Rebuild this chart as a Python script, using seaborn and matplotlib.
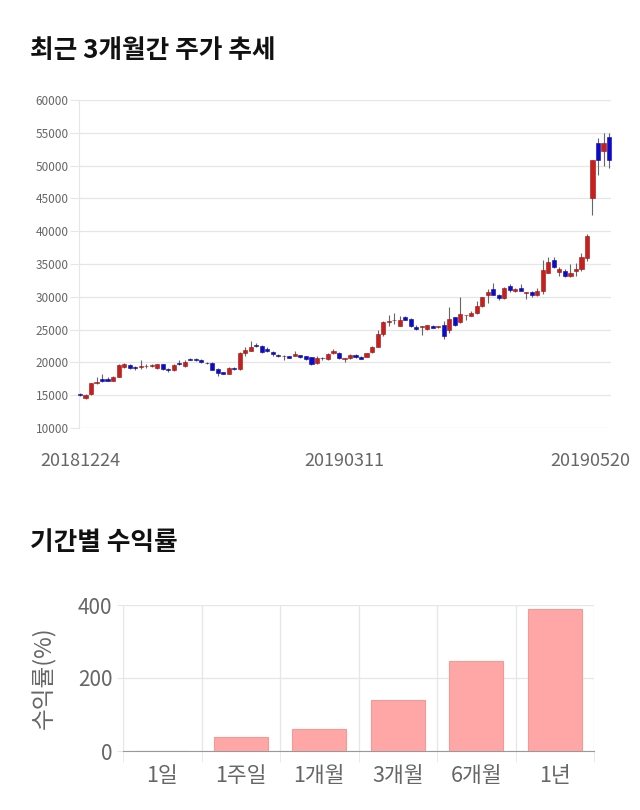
import numpy as np
import pandas as pd
import matplotlib
matplotlib.use("Agg")
import matplotlib.pyplot as plt
import matplotlib.transforms as mtrans
import seaborn as sns

# ==========================================================
# 데이터
# ==========================================================

opens = [15200, 14500, 15200, 16800, 17400, 17400, 17200, 17800, 19300, 19600,
         19200, 19300, 19400, 19500, 19100, 19700, 19000, 18900, 19900, 19400,
         20500, 20400, 20400, 19900, 19950, 19000, 18500, 18300, 19200, 19000,
         21500, 21800, 22650, 22500, 22100, 21600, 21200, 20900, 20900, 21000,
         21100, 20900, 20750, 19850, 20650, 20500, 21400, 21500, 20500, 20600,
         21200, 20850, 20850, 21600, 22400, 24300, 26100, 26400, 25600, 26850,
         26600, 25450, 25450, 25100, 25600, 25400, 25700, 24950, 26850, 26100,
         27150, 27100, 27500, 28600, 30200, 31150, 30200, 29800, 31700, 30900,
         31400, 30550, 30800, 30200, 30950, 33700, 35550, 33800, 34000, 33100,
         34000, 34200, 35900, 45000, 53400, 52300, 54350]
closes = [15000, 15000, 16800, 17000, 17100, 17200, 17800, 19600, 19800, 19200,
          19150, 19300, 19400, 19500, 19700, 19000, 18800, 19600, 19700, 20000,
          20400, 20350, 20000, 19850, 18900, 18400, 18300, 19200, 19000, 21500,
          21900, 22400, 22500, 21600, 21800, 21300, 20900, 20900, 20700, 21300,
          20750, 20550, 19800, 20600, 20600, 21300, 21700, 20650, 20500, 21100,
          20850, 20550, 21400, 22400, 24300, 26100, 26300, 26400, 26500, 26500,
          25600, 25100, 25450, 25650, 25300, 25400, 24000, 26600, 25700, 27400,
          27150, 27500, 28600, 29900, 30700, 30300, 29800, 31400, 31000, 31200,
          30950, 30550, 30200, 30950, 34100, 35300, 34550, 34300, 33200, 33700,
          34200, 36050, 39200, 50800, 50800, 53400, 50800]
highs = [15300, 15200, 16900, 17700, 18300, 17700, 17900, 19700, 19900, 19700,
         19500, 20300, 19800, 19700, 19800, 19800, 19100, 19700, 20300, 20300,
         20600, 20600, 20500, 20000, 20000, 19100, 18600, 19300, 19300, 21600,
         22300, 23300, 23000, 22600, 22300, 21700, 21300, 21100, 21000, 21800,
         21200, 21000, 20800, 20900, 20800, 21400, 22100, 21600, 20600, 21300,
         21300, 20900, 21500, 22500, 25000, 26300, 27300, 27500, 27000, 27000,
         26800, 25700, 25500, 25700, 25700, 25500, 26300, 28500, 26900, 29900,
         27300, 27800, 29400, 30000, 31200, 32100, 30500, 31500, 31900, 31400,
         31900, 30800, 30900, 31300, 35600, 36000, 36000, 34600, 34300, 35000,
         35100, 36700, 39500, 50800, 54200, 55000, 55000]
lows = [14900, 14400, 15100, 16700, 17000, 17100, 17100, 17700, 19200, 19000,
        18800, 19000, 19100, 19300, 19000, 18900, 18500, 18700, 19600, 19300,
        20300, 20200, 19900, 19700, 18800, 17900, 18200, 18200, 18900, 18900,
        21000, 21700, 22300, 21400, 21600, 21000, 20800, 20400, 20600, 20900,
        20600, 20400, 19600, 19800, 20400, 20400, 21300, 20500, 20000, 20500,
        20700, 20500, 20800, 21500, 22300, 24100, 25600, 25800, 25500, 26400,
        25400, 25000, 24200, 25000, 25200, 25300, 23500, 24500, 25600, 26000,
        26500, 27000, 27400, 28500, 29000, 30200, 29500, 29700, 30700, 30800,
        30900, 29700, 30000, 30100, 30500, 33600, 34400, 33200, 33000, 33000,
        33100, 34000, 35500, 42500, 48600, 50000, 49600]
date_ticks = [0, 48, 96]
date_labels = ["20181224", "20190311", "20190520"]

periods = ["1일", "1주일", "1개월", "3개월", "6개월", "1년"]
returns = [0, 38, 59, 141, 246, 389]

df = pd.DataFrame({"open": opens, "close": closes, "high": highs, "low": lows})
df["idx"] = np.arange(len(df))

sns.set_style("white")
plt.rcParams["font.family"] = ["Noto Sans CJK KR", "DejaVu Sans"]

GRAY_TXT = "#666666"
GRID = "#e6e6e6"
UP = "#c81e1e"
DOWN = "#0a0ad0"

fig = plt.figure(figsize=(6.4, 8.1), dpi=100)

# ==========================================================
# 1. 최근 3개월간 주가 추세 (캔들)
# ==========================================================

fig.text(30/640, 1 - 50/810, "최근 3개월간 주가 추세", fontsize=18.5,
         fontweight="bold", va="center", ha="left", color="#111111")

ax1 = fig.add_axes([79/640, 1 - 428/810, 532/640, 328/810])
up = df["close"] >= df["open"]
ax1.vlines(df["idx"], df["low"], df["high"], color="#666666", lw=0.8, zorder=2)
body_h = (df["close"] - df["open"]).abs().clip(lower=120)
body_b = df[["open", "close"]].min(axis=1)
ax1.bar(df["idx"][up], body_h[up], bottom=body_b[up], width=0.75,
        color=UP, edgecolor="#9a1414", lw=0.4, zorder=3, clip_on=False)
ax1.bar(df["idx"][~up], body_h[~up], bottom=body_b[~up], width=0.75,
        color=DOWN, edgecolor="#0a0a9a", lw=0.4, zorder=3, clip_on=False)

ax1.set_xlim(-0.18, 96.36)
ax1.set_ylim(10000, 60000)
ax1.set_yticks(np.arange(10000, 60001, 5000))
ax1.yaxis.grid(True, color=GRID, lw=0.9)
ax1.set_axisbelow(True)
for s in ["top", "right", "bottom"]:
    ax1.spines[s].set_visible(False)
ax1.spines["left"].set_color(GRID)
ax1.tick_params(axis="y", length=6.5, color=GRID, pad=1, labelsize=8.5,
                labelcolor=GRAY_TXT, left=True)
ax1.set_xticks(date_ticks)
ax1.set_xticklabels(date_labels)
ax1.tick_params(axis="x", length=0, pad=17, labelsize=13, labelcolor=GRAY_TXT)
last = ax1.get_xticklabels()[-1]
last.set_transform(last.get_transform() +
                   mtrans.ScaledTranslation(-0.19, 0, fig.dpi_scale_trans))

# ==========================================================
# 2. 기간별 수익률 (막대)
# ==========================================================

fig.text(30/640, 1 - 543/810, "기간별 수익률", fontsize=18.5,
         fontweight="bold", va="center", ha="left", color="#111111")

ax2 = fig.add_axes([123/640, 1 - 751/810, 471/640, 146/810])
sns.barplot(x=periods, y=returns, color="#ffa6a6", saturation=1, width=0.69,
            edgecolor="#f09a9a", linewidth=0.8, ax=ax2, zorder=3)
ax2.set_xlim(-0.5, 5.5)
ax2.set_ylim(0, 400)
ax2.set_yticks([0, 200, 400])
ax2.yaxis.grid(True, color=GRID, lw=0.9)
ax2.set_xticks(np.arange(-0.5, 6, 1), minor=True)
ax2.xaxis.grid(True, which="minor", color=GRID, lw=0.9)
ax2.set_axisbelow(True)
for s in ["top", "right", "left"]:
    ax2.spines[s].set_visible(False)
ax2.spines["bottom"].set_color("#999999")
ax2.tick_params(axis="x", which="major", length=0, pad=10, labelsize=15.5,
                labelcolor=GRAY_TXT)
ax2.tick_params(axis="x", which="minor", length=8, color=GRID, bottom=True)
ax2.tick_params(axis="y", length=4.5, color=GRID, pad=3, labelsize=15,
                labelcolor=GRAY_TXT, left=True)
ax2.set_ylabel("수익률(%)", fontsize=17, color=GRAY_TXT)
ax2.yaxis.set_label_coords(-0.142, 0.5)

plt.savefig("out.png", dpi=100)
plt.close()
